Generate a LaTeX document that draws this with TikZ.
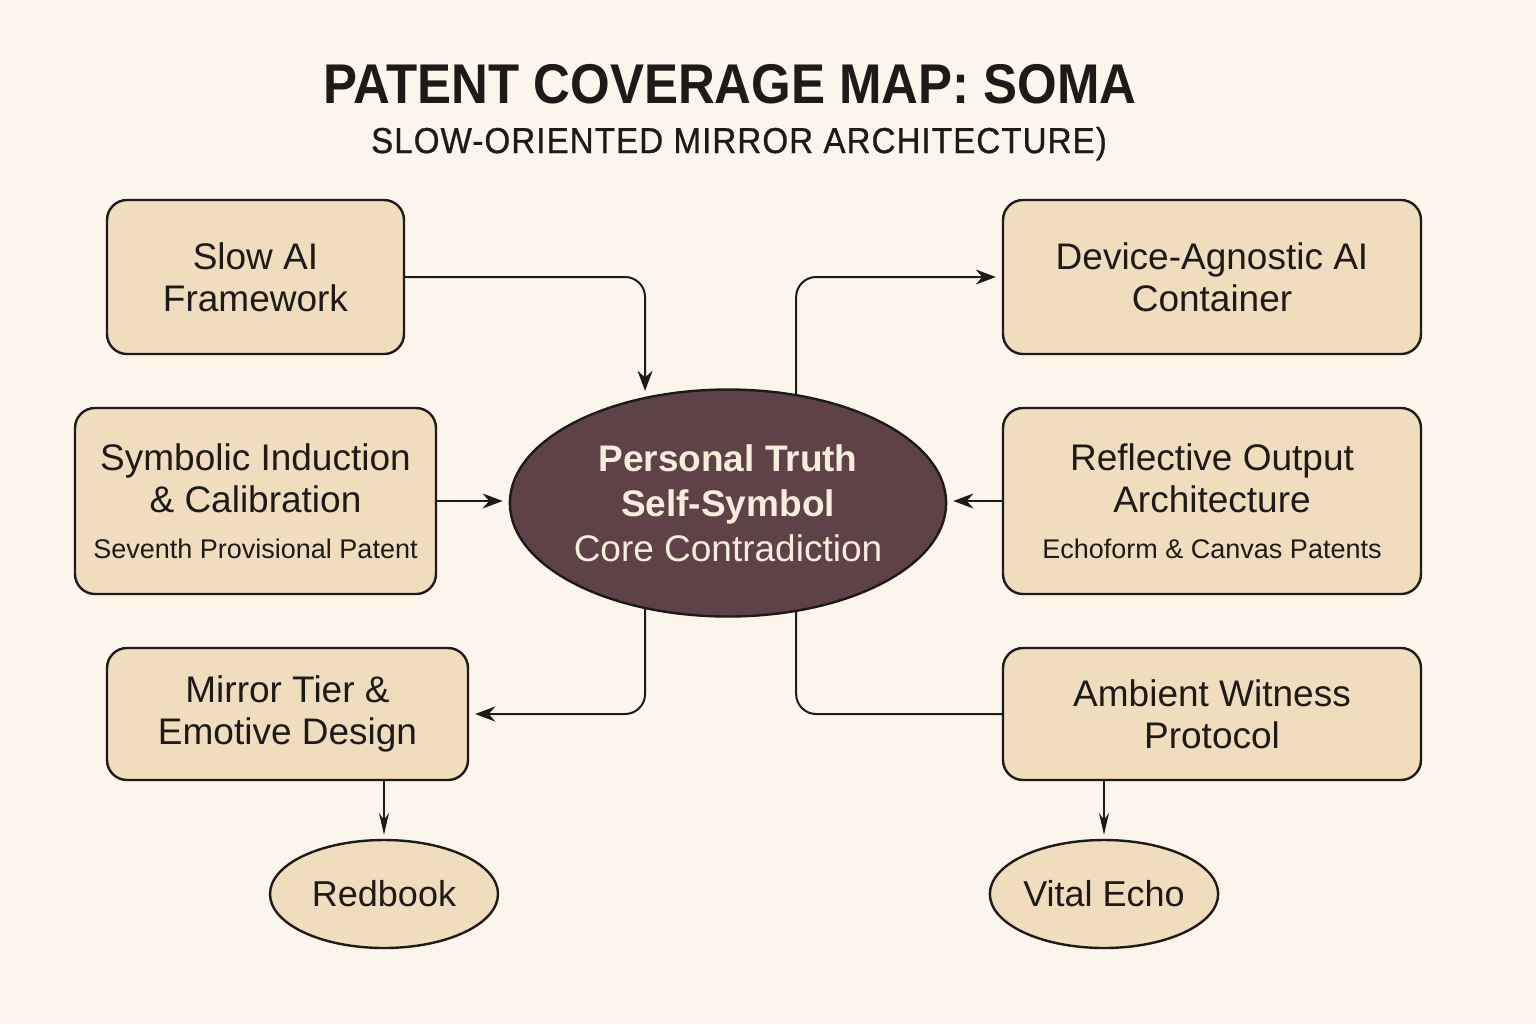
\documentclass[tikz,border=0pt]{standalone}
\usepackage{fontspec}
\setmainfont{Liberation Sans}
\newfontfamily\titlefont[FakeStretch=0.91]{Liberation Sans}
\newfontfamily\subfont[FakeStretch=0.92,LetterSpace=3,FakeBold=0.8]{Liberation Sans}
\usetikzlibrary{arrows.meta,shapes.geometric}
\definecolor{paper}{HTML}{FBF5EB}
\definecolor{sand}{HTML}{EFDDBE}
\definecolor{plum}{HTML}{5E4247}
\definecolor{cream}{HTML}{F7EEDC}
\definecolor{ink}{HTML}{1E1A17}
\newcommand\patnote[1]{{\fontsize{13.5}{16}\selectfont #1}}
\begin{document}
\begin{tikzpicture}[x=0.5pt, y=-0.5pt, line join=round, line cap=round,
	>={Stealth[length=10pt,width=7.5pt]},
	box/.style={draw=ink, fill=sand, line width=1.2pt, rounded corners=10pt,
		align=center, inner sep=0pt, text=ink, font=\fontsize{18.5}{21}\selectfont},
	oval/.style={ellipse, draw=ink, fill=sand, line width=1.2pt, inner sep=0pt,
		text=ink, font=\fontsize{18}{21}\selectfont},
	conn/.style={draw=ink, line width=1pt, rounded corners=10pt},
	drop/.style={draw=ink, line width=0.8pt, shorten >=2pt,
		-{Stealth[length=11pt,width=5pt]}}]
	\fill[paper] (0,0) rectangle (1536,1024);
	% title
	\node[anchor=base, text=ink, font=\titlefont\bfseries\fontsize{28}{32}\selectfont]
		(title) at (730,103) {PATENT COVERAGE MAP: SOMA};
	\node[anchor=base, text=ink, font=\subfont\fontsize{18}{22}\selectfont]
		(subtitle) at (739,153) {SLOW-ORIENTED MIRROR ARCHITECTURE)};
	% centre
	\node[ellipse, draw=ink, fill=plum, line width=1.2pt, inner sep=0pt,
		minimum width=215pt, minimum height=113.5pt, align=center, text=cream,
		font=\fontsize{18.5}{22.5}\selectfont] (core) at (728,503)
		{\bfseries Personal Truth\\ \bfseries Self-Symbol\\ Core Contradiction};
	% left column
	\node[box, minimum width=148.5pt, minimum height=77pt] (slow) at (255.5,277)
		{Slow AI\\ Framework};
	\node[box, minimum width=180.5pt, minimum height=93pt] (symb) at (255.5,501)
		{Symbolic Induction\\ \& Calibration\\[2pt] \patnote{Seventh Provisional Patent}};
	\node[box, minimum width=180.5pt, minimum height=66pt] (mirror) at (287.5,714)
		{Mirror Tier \&\\ Emotive Design};
	% right column
	\node[box, minimum width=209pt, minimum height=77pt] (device) at (1212,277)
		{Device-Agnostic AI\\ Container};
	\node[box, minimum width=209pt, minimum height=93pt] (reflect) at (1212,501)
		{Reflective Output\\ Architecture\\[2pt] \patnote{Echoform \& Canvas Patents}};
	\node[box, minimum width=209pt, minimum height=66pt] (ambient) at (1212,714)
		{Ambient Witness\\ Protocol};
	% products
	\node[oval, minimum width=114pt, minimum height=54pt] (redbook) at (384,894) {Redbook};
	\node[oval, minimum width=113pt, minimum height=54pt] (vital) at (1104,894) {Vital Echo};
	% connectors
	\draw[conn,->,shorten >=3pt] (slow.east) -| (core.128);
	\draw[conn,->,shorten >=3pt] (core.58) |- (device.west);
	\draw[conn,->,shorten >=3pt] (symb.east) -- (symb.east -| core.west);
	\draw[conn,->,shorten >=3pt] (reflect.west) -- (reflect.west -| core.east);
	\draw[conn,->,shorten >=3pt] (core.-128) |- (mirror.east);
	\draw[conn] (core.-58) |- (ambient.west);
	\draw[drop] (mirror.south -| redbook.north) -- (redbook.north);
	\draw[drop] (ambient.south -| vital.north) -- (vital.north);
\end{tikzpicture}
\end{document}
